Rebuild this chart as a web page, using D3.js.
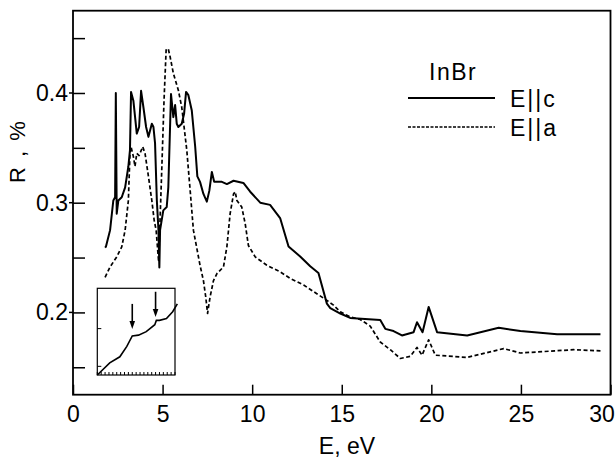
<!DOCTYPE html>
<html><head><meta charset="utf-8">
<script src="https://cdn.jsdelivr.net/npm/d3@7"></script>
<style>
html,body{margin:0;padding:0;background:#fff;}
text{font-family:"Liberation Sans",Arial,Helvetica,sans-serif;fill:#000;}
</style></head>
<body><svg id="c" width="616" height="460"></svg>
<script>
// E || c (solid)
const cE = [1.79,1.84,2.07,2.25,2.35,2.39,2.44,2.53,2.72,2.91,3.09,3.18,3.24,3.37,3.56,3.69,3.80,3.93,4.08,4.21,4.40,4.49,4.58,4.68,4.77,4.82,4.86,5.04,5.23,5.32,5.47,5.60,5.70,5.79,5.88,6.07,6.20,6.31,6.44,6.63,6.82,6.94,7.09,7.28,7.47,7.61,7.75,7.88,8.31,8.59,8.96,9.51,9.89,10.45,11.0,11.56,12.03,12.68,13.24,13.70,14.17,14.36,14.92,15.47,16.3,17.15,17.43,17.89,18.36,19.01,19.2,19.51,19.85,20.32,22.0,23.76,24.97,27.02,29.44];
const cR = [0.259,0.260,0.275,0.302,0.305,0.400,0.290,0.302,0.305,0.314,0.333,0.348,0.401,0.393,0.363,0.369,0.402,0.387,0.369,0.360,0.372,0.369,0.354,0.302,0.275,0.241,0.275,0.293,0.296,0.314,0.399,0.378,0.389,0.372,0.369,0.372,0.381,0.401,0.398,0.384,0.351,0.324,0.319,0.308,0.301,0.311,0.328,0.319,0.319,0.317,0.320,0.318,0.310,0.300,0.298,0.286,0.260,0.251,0.242,0.236,0.208,0.204,0.199,0.195,0.194,0.193,0.185,0.183,0.179,0.182,0.191,0.182,0.205,0.182,0.179,0.186,0.183,0.180,0.180];
// E || a (dashed)
const aE = [1.79,2.07,2.44,2.72,2.91,3.09,3.18,3.24,3.37,3.46,3.56,3.69,3.89,4.02,4.21,4.40,4.53,4.64,4.78,4.96,5.08,5.20,5.32,5.42,5.60,5.88,6.07,6.20,6.35,6.54,6.72,7.09,7.28,7.41,7.51,7.65,7.84,8.04,8.40,8.59,8.77,8.96,9.05,9.15,9.42,9.61,9.79,10.17,10.82,11.56,12.12,12.87,13.61,14.17,14.54,14.92,15.47,16.03,16.59,17.15,17.71,18.27,18.83,19.2,19.48,19.85,20.22,21.99,24.04,24.97,27.95,29.44];
const aR = [0.232,0.2415,0.2506,0.2597,0.275,0.302,0.345,0.351,0.342,0.333,0.345,0.343,0.351,0.345,0.324,0.302,0.284,0.275,0.246,0.333,0.393,0.440,0.440,0.433,0.418,0.4025,0.387,0.369,0.348,0.311,0.275,0.243,0.229,0.214,0.199,0.214,0.229,0.2355,0.2415,0.260,0.290,0.308,0.310,0.302,0.296,0.281,0.261,0.2506,0.243,0.237,0.231,0.225,0.217,0.211,0.2066,0.2005,0.196,0.1936,0.1875,0.173,0.166,0.158,0.160,0.168,0.161,0.175,0.161,0.159,0.167,0.163,0.166,0.165];
// axis ticks
const xTicks = [0,5,10,15,20,25,30];
const yMajor = [0.2,0.3,0.4];
const yMinor = [0.15,0.25,0.35,0.45];
// legend
const title = "InBr";
const seriesNames = ["E||c","E||a"];
// inset (arbitrary units)
const inX = [0,1.6,2.9,3.8,4.5,5.3,6.3,7.4,7.6,8.0,8.9,9.7,10.3];
const inY = [0,1.4,2.1,3.3,4.5,4.6,5.0,5.8,6.3,6.3,6.5,7.3,8.2];
const inArrowX = [4.5,7.5];
const inArrowTop = [8.2,9.6];
const inArrowTip = [5.3,6.7];
const inBottomTicks = d3.range(0,10.01,0.5);
const inLeftTicks = [1,5.35];

const svg = d3.select("#c");
const x = d3.scaleLinear().domain([0,30]).range([73,610.5]);
const y = d3.scaleLinear().domain([0.125,0.475]).range([394.7,10.7]);
const FS = "23px";

// frame
svg.append("rect").attr("x",x(0)).attr("y",y(0.475)).attr("width",x(30)-x(0)).attr("height",y(0.125)-y(0.475))
  .attr("fill","none").attr("stroke","#000").attr("stroke-width",1.8);

// x axis
const gx = svg.append("g").attr("transform",`translate(0,${y(0.125)})`)
  .call(d3.axisBottom(x).tickValues(xTicks).tickSizeInner(-10).tickSizeOuter(0).tickPadding(11).tickFormat(d3.format("d")));
gx.select(".domain").remove();
gx.selectAll("line").attr("stroke","#000").attr("stroke-width",1.5);
gx.selectAll("text").style("font-size",FS).attr("font-family",null)
  .attr("dx", d => d === 30 ? -9 : 0);

// y axis
const gy = svg.append("g").attr("transform",`translate(${x(0)},0)`)
  .call(d3.axisLeft(y).tickValues(yMajor.concat(yMinor)).tickSizeInner(-12).tickSizeOuter(0).tickPadding(5)
    .tickFormat(d => yMajor.includes(d) ? d3.format(".1f")(d) : ""));
gy.select(".domain").remove();
gy.selectAll("line").attr("stroke","#000").attr("stroke-width",1.5);
gy.selectAll("text").style("font-size",FS).attr("font-family",null);
svg.append("g").selectAll("line").data(yMajor).join("line")
  .attr("x1",x(0)-4).attr("x2",x(0)).attr("y1",d=>y(d)).attr("y2",d=>y(d)).attr("stroke","#000").attr("stroke-width",1.5);

// axis titles
svg.append("text").attr("x",347).attr("y",454).attr("text-anchor","middle").style("font-size",FS).text("E, eV");
svg.append("text").attr("transform","translate(25,151) rotate(-90)").attr("text-anchor","middle")
  .style("font-size","22px").style("letter-spacing","2px").attr("xml:space","preserve").text("R , %");

// curves
const line = d3.line().x(d=>x(d[0])).y(d=>y(d[1]));
const cData = cE.map((e,i)=>[e,cR[i]]);
const aData = aE.map((e,i)=>[e,aR[i]]);
svg.append("path").datum(aData).attr("d",line).attr("fill","none").attr("stroke","#000")
  .attr("stroke-width",1.7).attr("stroke-dasharray","4,2.5").attr("stroke-linejoin","round");
svg.append("path").datum(cData).attr("d",line).attr("fill","none").attr("stroke","#000")
  .attr("stroke-width",2).attr("stroke-linejoin","round");

// legend
svg.append("text").attr("x",429).attr("y",80).style("font-size",FS).style("letter-spacing","1.5px").text(title);
const lg = [{y:98,dash:null,w:2},{y:127,dash:"3,1.5",w:1.7}];
lg.forEach((l,i)=>{
  svg.append("line").attr("x1",408).attr("x2",495).attr("y1",l.y).attr("y2",l.y).attr("stroke","#000")
    .attr("stroke-width",l.w).attr("stroke-dasharray",l.dash);
  svg.append("text").attr("x",510).attr("y",l.y+8.5).style("font-size",FS).style("letter-spacing","2px").text(seriesNames[i]);
});

// inset
const ix = d3.scaleLinear().domain([0,10]).range([97.3,175]);
const iy = d3.scaleLinear().domain([0,10]).range([375,288.3]);
const inset = svg.append("g");
inset.append("rect").attr("x",ix(0)).attr("y",iy(10)).attr("width",ix(10)-ix(0)).attr("height",iy(0)-iy(10))
  .attr("fill","none").attr("stroke","#000").attr("stroke-width",1.2);
inset.selectAll("line.bt").data(inBottomTicks).join("line").attr("class","bt")
  .attr("x1",d=>ix(d)).attr("x2",d=>ix(d)).attr("y1",iy(0)).attr("y2",iy(0)-3).attr("stroke","#000").attr("stroke-width",1);
inset.selectAll("line.lt").data(inLeftTicks).join("line").attr("class","lt")
  .attr("x1",ix(0)).attr("x2",ix(0)+4).attr("y1",d=>iy(d)).attr("y2",d=>iy(d)).attr("stroke","#000").attr("stroke-width",1);
inset.append("path").datum(inX.map((v,i)=>[v,inY[i]])).attr("d",d3.line().x(d=>ix(d[0])).y(d=>iy(d[1])))
  .attr("fill","none").attr("stroke","#000").attr("stroke-width",1.6);
inArrowX.forEach((ax,i)=>{
  const px = ix(ax), tip = iy(inArrowTip[i]), top = iy(inArrowTop[i]);
  inset.append("line").attr("x1",px).attr("x2",px).attr("y1",top).attr("y2",tip-5).attr("stroke","#000").attr("stroke-width",1.6);
  inset.append("path").attr("d",`M${px-2.8},${tip-8}L${px+2.8},${tip-8}L${px},${tip}Z`).attr("fill","#000");
});
</script></body></html>
